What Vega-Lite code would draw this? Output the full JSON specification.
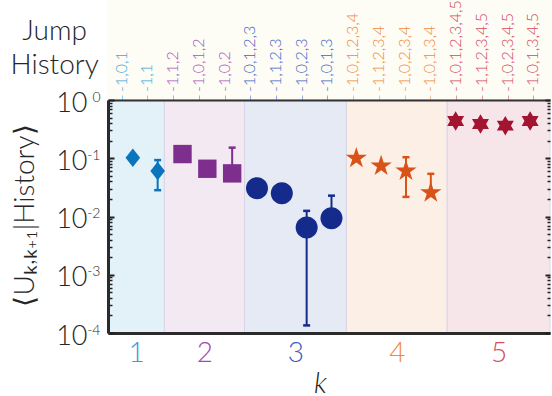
{
  "$schema": "https://vega.github.io/schema/vega-lite/v6.json",
  "width": 442,
  "height": 233,
  "autosize": {"type": "none"},
  "padding": {"left": 108, "top": 100, "right": 2, "bottom": 63},
  "background": "white",
  "config": {"view": {"stroke": null}, "font": "Lato", "axis": {"grid": false}},
  "datasets": {
    "pts": [
      {"cat": "1", "hist": "-1,0,1", "pos": 1, "val": 0.102},
      {"cat": "1", "hist": "-1,1", "pos": 2, "val": 0.0605, "lo": 0.0283, "hi": 0.093},
      {"cat": "2", "hist": "-1,1,2", "pos": 3, "val": 0.118},
      {"cat": "2", "hist": "-1,0,1,2", "pos": 4, "val": 0.066},
      {"cat": "2", "hist": "-1,0,2", "pos": 5, "val": 0.055, "lo": 0.046, "hi": 0.152},
      {"cat": "3", "hist": "-1,0,1,2,3", "pos": 6, "val": 0.0306},
      {"cat": "3", "hist": "-1,1,2,3", "pos": 7, "val": 0.025},
      {"cat": "3", "hist": "-1,0,2,3", "pos": 8, "val": 0.0065, "lo": 0.000135, "hi": 0.0125},
      {"cat": "3", "hist": "-1,0,1,3", "pos": 9, "val": 0.0093, "lo": 0.0075, "hi": 0.0228},
      {"cat": "4", "hist": "-1,0,1,2,3,4", "pos": 10, "val": 0.1},
      {"cat": "4", "hist": "-1,1,2,3,4", "pos": 11, "val": 0.0738},
      {"cat": "4", "hist": "-1,0,2,3,4", "pos": 12, "val": 0.0605, "lo": 0.0217, "hi": 0.104},
      {"cat": "4", "hist": "-1,0,1,3,4", "pos": 13, "val": 0.0257, "lo": 0.0245, "hi": 0.054},
      {"cat": "5", "hist": "-1,0,1,2,3,4,5", "pos": 14, "val": 0.436},
      {"cat": "5", "hist": "-1,1,2,3,4,5", "pos": 15, "val": 0.387},
      {"cat": "5", "hist": "-1,0,2,3,4,5", "pos": 16, "val": 0.362},
      {"cat": "5", "hist": "-1,0,1,3,4,5", "pos": 17, "val": 0.436}
    ],
    "bands": [
      {"cat": "1", "x0": 0, "x1": 2.27},
      {"cat": "2", "x0": 2.27, "x1": 5.5},
      {"cat": "3", "x0": 5.5, "x1": 9.6},
      {"cat": "4", "x0": 9.6, "x1": 13.66},
      {"cat": "5", "x0": 13.66, "x1": 17.8}
    ],
    "title": [{"line1": "Jump", "line2": "History"}]
  },
  "layer": [
    {
      "data": {"name": "title"},
      "mark": {"type": "rect", "color": "#fdfcf5", "clip": false},
      "encoding": {
        "x": {"datum": -0.05, "type": "quantitative", "scale": {"domain": [0, 17.8], "nice": false, "zero": false}, "axis": null},
        "x2": {"datum": 17.9},
        "y": {"datum": 1, "type": "quantitative", "scale": {"type": "log", "domain": [0.0001, 1], "nice": false}, "axis": null},
        "y2": {"datum": 60}
      }
    },
    {
      "data": {"name": "title"},
      "mark": {"type": "text", "clip": false, "align": "center", "baseline": "alphabetic", "fontSize": 28, "fontWeight": 300, "lineHeight": 34, "color": "#262626"},
      "encoding": {
        "x": {"datum": -2.15, "type": "quantitative", "scale": {"domain": [0, 17.8], "nice": false, "zero": false}, "axis": null},
        "y": {"datum": 10.7, "type": "quantitative", "scale": {"type": "log", "domain": [0.0001, 1], "nice": false}, "axis": null},
        "text": {"value": ["Jump", "History"]}
      }
    },
    {
      "data": {"name": "bands"},
      "mark": {"type": "rect", "stroke": "#d9d5e8", "strokeWidth": 1},
      "encoding": {
        "x": {"field": "x0", "type": "quantitative", "scale": {"domain": [0, 17.8], "nice": false, "zero": false},
          "axis": {"orient": "bottom", "zindex": 2, "values": [1.135, 3.885, 7.55, 11.63, 15.73],
            "labelExpr": "datum.value < 2 ? '1' : datum.value < 5 ? '2' : datum.value < 9 ? '3' : datum.value < 13 ? '4' : '5'",
            "labelColor": {"condition": [
              {"test": "datum.value < 2", "value": "#2f9fdc"},
              {"test": "datum.value < 5", "value": "#a24cb8"},
              {"test": "datum.value < 9", "value": "#3a5bc2"},
              {"test": "datum.value < 13", "value": "#f0883a"}], "value": "#d84a5c"},
            "labelFontSize": 28, "labelFontWeight": 300, "labelPadding": 6, "labelFlush": false,
            "ticks": false, "domainWidth": 3, "domainColor": "#2b2b2b",
            "title": "k", "titleFontSize": 29, "titleFontWeight": 300, "titleFontStyle": "italic", "titleColor": "#262626",
            "titleX": 212, "titleY": 59, "titleBaseline": "alphabetic", "titleAlign": "center"}},
        "x2": {"field": "x1"},
        "y": {"datum": 0.0001, "type": "quantitative", "scale": {"type": "log", "domain": [0.0001, 1], "nice": false},
          "axis": {"orient": "left", "zindex": 2, "values": [0.0001, 0.001, 0.01, 0.1, 1],
            "labelExpr": "datum.value > 0.5 ? '0' : datum.value > 0.05 ? '-1' : datum.value > 0.005 ? '-2' : datum.value > 0.0005 ? '-3' : '-4'",
            "labelFontSize": 14, "labelFontWeight": 300, "labelColor": "#262626", "labelPadding": 8, "labelBaseline": "middle", "labelFlush": false, "labelOffset": -3,
            "ticks": false, "domain": false, "title": null}},
        "y2": {"datum": 1},
        "color": {"field": "cat", "type": "nominal", "legend": null,
          "scale": {"domain": ["1", "2", "3", "4", "5"], "range": ["#e3f1f9", "#f2e9f3", "#e6eaf4", "#fcefe6", "#f6e6ea"]}}
      }
    },
    {
      "data": {"name": "pts"},
      "mark": {"type": "text", "angle": 270, "align": "left", "baseline": "middle", "fontSize": 16, "fontWeight": 300, "dx": 8, "clip": false},
      "encoding": {
        "x": {"field": "pos", "type": "quantitative", "scale": {"domain": [0.467, 17.65], "nice": false, "zero": false},
          "axis": {"orient": "top", "zindex": 2, "values": [1, 2, 3, 4, 5, 6, 7, 8, 9, 10, 11, 12, 13, 14, 15, 16, 17],
            "labels": false,
            "tickColor": {"condition": [
              {"test": "datum.value < 2.5", "value": "#8ccbee"},
              {"test": "datum.value < 5.5", "value": "#cfa0da"},
              {"test": "datum.value < 9.5", "value": "#97a9dd"},
              {"test": "datum.value < 13.5", "value": "#f6bf93"}], "value": "#e698a5"},
            "tickSize": 5, "tickWidth": 1,
            "domainWidth": 2, "domainColor": "#333333", "title": null}},
        "y": {"datum": 1, "type": "quantitative", "scale": {"type": "log", "domain": [0.0001, 1], "nice": false}, "axis": null},
        "text": {"field": "hist"},
        "color": {"field": "cat", "type": "nominal", "legend": null,
          "scale": {"domain": ["1", "2", "3", "4", "5"], "range": ["#3fa7dd", "#a855bd", "#4565c2", "#f08a3c", "#d34a60"]}}
      }
    },
    {
      "data": {"name": "pts"},
      "transform": [{"filter": "isValid(datum.hi)"}],
      "mark": {"type": "rule", "strokeWidth": 2},
      "encoding": {
        "x": {"field": "pos", "type": "quantitative", "scale": {"domain": [0, 17.8], "nice": false, "zero": false}, "axis": null},
        "y": {"field": "lo", "type": "quantitative", "scale": {"type": "log", "domain": [0.0001, 1], "nice": false},
          "axis": {"orient": "left", "zindex": 2, "values": [0.0002, 0.0003, 0.0004, 0.0005, 0.0006, 0.0007, 0.0008, 0.0009, 0.002, 0.003, 0.004, 0.005, 0.006, 0.007, 0.008, 0.009, 0.02, 0.03, 0.04, 0.05, 0.06, 0.07, 0.08, 0.09, 0.2, 0.3, 0.4, 0.5, 0.6, 0.7, 0.8, 0.9],
            "labels": false, "domain": false, "tickSize": -4, "tickWidth": 1.5, "tickColor": "#222222", "title": null}},
        "y2": {"field": "hi"},
        "color": {"field": "cat", "type": "nominal", "legend": null,
          "scale": {"domain": ["1", "2", "3", "4", "5"], "range": ["#0a74bd", "#7e2f8e", "#142b8b", "#d95319", "#a2142f"]}}
      }
    },
    {
      "data": {"name": "pts"},
      "transform": [{"filter": "isValid(datum.hi)"}],
      "mark": {"type": "tick", "orient": "horizontal", "size": 7, "thickness": 2.5, "opacity": 1},
      "encoding": {
        "x": {"field": "pos", "type": "quantitative", "scale": {"domain": [0, 17.8], "nice": false, "zero": false}, "axis": null},
        "y": {"field": "hi", "type": "quantitative", "scale": {"type": "log", "domain": [0.0001, 1], "nice": false},
          "axis": {"orient": "right", "zindex": 2, "values": [0.0002, 0.0003, 0.0004, 0.0005, 0.0006, 0.0007, 0.0008, 0.0009, 0.002, 0.003, 0.004, 0.005, 0.006, 0.007, 0.008, 0.009, 0.02, 0.03, 0.04, 0.05, 0.06, 0.07, 0.08, 0.09, 0.2, 0.3, 0.4, 0.5, 0.6, 0.7, 0.8, 0.9],
            "labels": false, "domain": false, "tickSize": -3, "tickWidth": 1.5, "tickColor": "#222222", "title": null}},
        "color": {"field": "cat", "type": "nominal", "legend": null,
          "scale": {"domain": ["1", "2", "3", "4", "5"], "range": ["#0a74bd", "#7e2f8e", "#142b8b", "#d95319", "#a2142f"]}}
      }
    },
    {
      "data": {"name": "pts"},
      "transform": [{"filter": "isValid(datum.lo)"}],
      "mark": {"type": "tick", "orient": "horizontal", "size": 7, "thickness": 2.5, "opacity": 1},
      "encoding": {
        "x": {"field": "pos", "type": "quantitative", "scale": {"domain": [0, 17.8], "nice": false, "zero": false}, "axis": null},
        "y": {"field": "lo", "type": "quantitative", "scale": {"type": "log", "domain": [0.0001, 1], "nice": false},
          "axis": {"orient": "right", "zindex": 2, "values": [0.0001, 0.001, 0.01, 0.1, 1],
            "labels": false, "domain": false, "tickSize": -5, "tickWidth": 2, "tickColor": "#222222", "title": null}},
        "color": {"field": "cat", "type": "nominal", "legend": null,
          "scale": {"domain": ["1", "2", "3", "4", "5"], "range": ["#0a74bd", "#7e2f8e", "#142b8b", "#d95319", "#a2142f"]}}
      }
    },
    {
      "data": {"name": "pts"},
      "mark": {"type": "point", "filled": true, "opacity": 1, "strokeWidth": 0, "size": 484},
      "encoding": {
        "x": {"field": "pos", "type": "quantitative", "scale": {"domain": [0, 17.8], "nice": false, "zero": false}, "axis": null},
        "y": {"field": "val", "type": "quantitative", "scale": {"type": "log", "domain": [0.0001, 1], "nice": false},
          "axis": {"orient": "left", "zindex": 2, "values": [0.0001, 0.001, 0.01, 0.1, 1],
            "labelExpr": "'10'",
            "labelFontSize": 27, "labelFontWeight": 300, "labelColor": "#262626", "labelPadding": 27, "labelBaseline": "middle", "labelFlush": false, "labelOffset": 3,
            "tickSize": -6, "tickWidth": 2, "tickColor": "#222222",
            "domainWidth": 3, "domainColor": "#2b2b2b",
            "title": "⟨Uₖ,ₖ₊₁|History⟩", "titleFontSize": 28, "titleFontWeight": 300, "titleColor": "#262626",
            "titleX": -75, "titleY": 115, "titleAngle": -90, "titleBaseline": "alphabetic", "titleAlign": "center"}},
        "color": {"field": "cat", "type": "nominal", "legend": null,
          "scale": {"domain": ["1", "2", "3", "4", "5"], "range": ["#0a74bd", "#7e2f8e", "#142b8b", "#d95319", "#a2142f"]}},
        "shape": {"field": "cat", "type": "nominal", "legend": null,
          "scale": {"domain": ["1", "2", "3", "4", "5"], "range": [
            "M0,-0.836L0.664,0L0,0.836L-0.664,0Z",
            "M-0.836,-0.836L0.836,-0.836L0.836,0.836L-0.836,0.836Z",
            "M1,0A1,1,0,1,1,-1,0A1,1,0,1,1,1,0Z",
            "M0,-1.02L0.229,-0.315L0.97,-0.315L0.37,0.12L0.6,0.825L0,0.39L-0.6,0.825L-0.37,0.12L-0.97,-0.315L-0.229,-0.315Z",
            "M0,-0.89L0.257,-0.445L0.771,-0.445L0.514,0L0.771,0.445L0.257,0.445L0,0.89L-0.257,0.445L-0.771,0.445L-0.514,0L-0.771,-0.445L-0.257,-0.445Z"]}}
      }
    }
  ],
  "resolve": {"scale": {"color": "independent", "x": "independent"}, "axis": {"x": "independent", "y": "independent"}}
}
